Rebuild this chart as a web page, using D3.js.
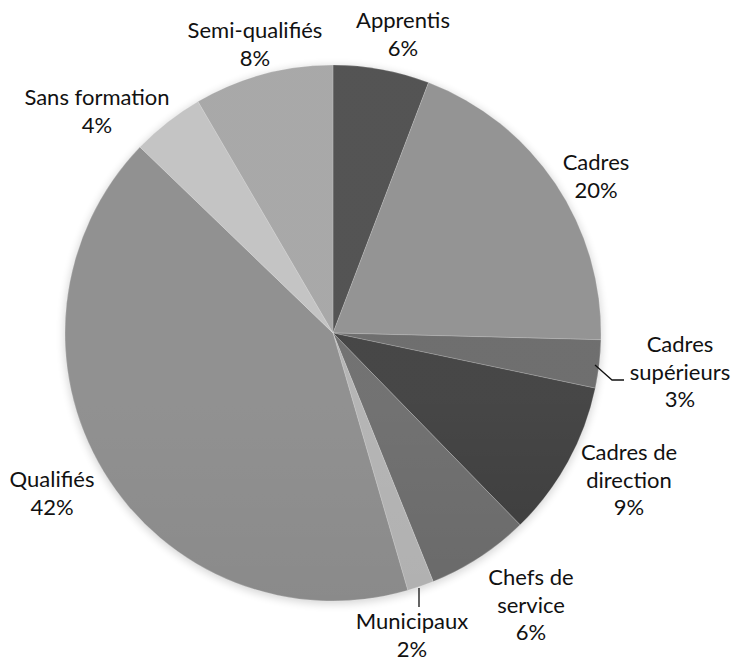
<!DOCTYPE html>
<html><head><meta charset="utf-8">
<script src="https://cdn.jsdelivr.net/npm/d3@7"></script>
<style>body{margin:0;background:#fff}svg{display:block}text{font-family:"Gill Sans","Lato",sans-serif;font-size:22px;fill:#111}</style>
</head><body><svg id="c" width="733" height="660"></svg>
<script>
const categories = ["Apprentis","Cadres","Cadres supérieurs","Cadres de direction","Chefs de service","Municipaux","Qualifiés","Sans formation","Semi-qualifiés"];
const values = [5.8,19.6,2.9,9.4,6.2,1.6,41.7,4.4,8.4];
const colors = ["#474747","#8c8c8c","#646464","#393939","#686868","#b0b0b0","#898989","#c0c0c0","#a2a2a2"];
const labelLines = [["Apprentis"],["Cadres"],["Cadres","supérieurs"],["Cadres de","direction"],["Chefs de","service"],["Municipaux"],["Qualifiés"],["Sans formation"],["Semi-qualifiés"]];
const labelPos = [[403,28],[596,170],[680,352],[629,460],[531,585],[412,629],[52,487],[97,105],[255,38]];

const svg = d3.select("#c");
const cx = 333, cy = 333, R = 268;
const defs = svg.append("defs");
const lg = defs.append("linearGradient").attr("id","shade").attr("gradientUnits","userSpaceOnUse")
  .attr("x1",0).attr("y1",cy-R).attr("x2",0).attr("y2",cy+R);
lg.append("stop").attr("offset",0).attr("stop-color","#fff").attr("stop-opacity",0.07);
lg.append("stop").attr("offset",0.45).attr("stop-color","#fff").attr("stop-opacity",0);
lg.append("stop").attr("offset",1).attr("stop-color","#000").attr("stop-opacity",0.12);
const f = defs.append("filter").attr("id","sh").attr("x","-20%").attr("y","-20%").attr("width","140%").attr("height","140%");
f.append("feGaussianBlur").attr("stdDeviation",4);

const g = svg.append("g").attr("transform",`translate(${cx},${cy})`);
g.append("circle").attr("r",R+1).attr("cy",2).attr("fill","#000").attr("opacity",0.16).attr("filter","url(#sh)");
const pie = d3.pie().sort(null).value(d=>d);
const arc = d3.arc().innerRadius(0).outerRadius(R);
const arcs = pie(values);
g.selectAll("path.s").data(arcs).join("path").attr("class","s")
  .attr("d",arc).attr("fill",(d,i)=>colors[i])
  .attr("stroke","#fff").attr("stroke-opacity",0.3).attr("stroke-width",0.6);
g.append("circle").attr("r",R).attr("fill","url(#shade)");

// leader lines
svg.append("path").attr("d","M595,365L612,380L624,380").attr("fill","none").attr("stroke","#111").attr("stroke-width",1.3);
svg.append("path").attr("d","M419,588L419,607").attr("fill","none").attr("stroke","#111").attr("stroke-width",1.3);

const lab = svg.append("g");
categories.forEach((c,i)=>{
  const lines = labelLines[i].concat([Math.round(values[i])+"%"]);
  const t = lab.append("text").attr("text-anchor","middle").attr("x",labelPos[i][0]).attr("y",labelPos[i][1]);
  lines.forEach((l,j)=>t.append("tspan").attr("x",labelPos[i][0]).attr("dy",j?27.5:0).text(l));
});
</script></body></html>
